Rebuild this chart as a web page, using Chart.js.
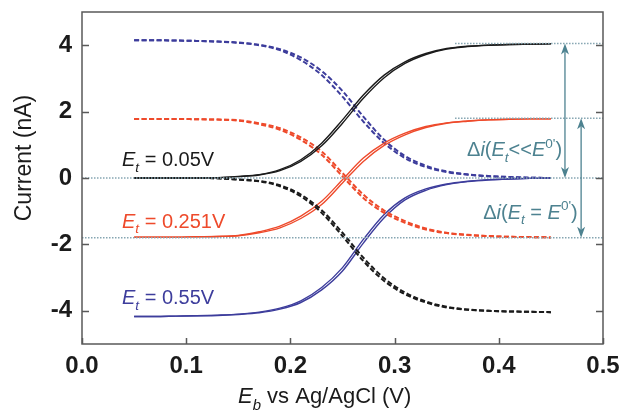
<!DOCTYPE html>
<html>
<head>
<meta charset="utf-8">
<script src="https://cdn.jsdelivr.net/npm/chart.js@4.4.1/dist/chart.umd.min.js"></script>
<style>
  html, body { margin: 0; padding: 0; background: #fff; }
  #wrap { width: 624px; height: 418px; }
</style>
</head>
<body>
<div id="wrap"><canvas id="cv" width="624" height="418"></canvas></div>
<script>
// tip-substrate potential sweep, E_b (V)
const eb = [0.05, 0.07, 0.09, 0.11, 0.13, 0.15, 0.17, 0.19, 0.21, 0.23, 0.25,
            0.27, 0.29, 0.31, 0.33, 0.35, 0.37, 0.39, 0.41, 0.43, 0.45];

// Et = 0.05 V (black)
const blackSolidA = [0, 0, 0, 0, 0.01, 0.05, 0.1, 0.25, 0.55, 1.05, 1.75, 2.5, 3.1, 3.5, 3.75, 3.9, 3.97, 4.0, 4.02, 4.03, 4.04];
const blackSolidB = [0, 0, 0, 0, 0.01, 0.04, 0.09, 0.22, 0.5, 0.97, 1.65, 2.4, 3.02, 3.45, 3.72, 3.88, 3.96, 4.0, 4.02, 4.03, 4.04];
const blackDashA  = [0, 0, 0, 0, -0.01, -0.05, -0.1, -0.25, -0.55, -1.05, -1.75, -2.5, -3.1, -3.5, -3.75, -3.9, -3.97, -4.0, -4.02, -4.03, -4.04];
const blackDashB  = [0, 0, 0, 0, -0.01, -0.04, -0.09, -0.22, -0.5, -0.97, -1.65, -2.4, -3.02, -3.45, -3.72, -3.88, -3.96, -4.0, -4.02, -4.03, -4.04];

// Et = 0.251 V (red)
const redSolidA = [-1.78, -1.78, -1.78, -1.77, -1.76, -1.73, -1.62, -1.45, -1.15, -0.7, -0.05, 0.6, 1.05, 1.35, 1.55, 1.66, 1.72, 1.75, 1.77, 1.78, 1.78];
const redSolidB = [-1.78, -1.78, -1.78, -1.77, -1.76, -1.74, -1.65, -1.5, -1.22, -0.8, -0.15, 0.5, 0.98, 1.3, 1.52, 1.65, 1.71, 1.75, 1.77, 1.78, 1.78];
const redDashA  = [1.78, 1.78, 1.78, 1.77, 1.76, 1.73, 1.62, 1.45, 1.15, 0.7, 0.05, -0.6, -1.05, -1.35, -1.55, -1.66, -1.72, -1.75, -1.77, -1.78, -1.79];
const redDashB  = [1.78, 1.78, 1.78, 1.77, 1.76, 1.74, 1.65, 1.5, 1.22, 0.8, 0.15, -0.5, -0.98, -1.3, -1.52, -1.65, -1.71, -1.75, -1.77, -1.78, -1.79];

// Et = 0.55 V (blue)
const blueSolidA = [-4.17, -4.17, -4.16, -4.15, -4.13, -4.1, -4.04, -3.92, -3.7, -3.3, -2.7, -1.85, -1.1, -0.6, -0.33, -0.18, -0.1, -0.05, -0.03, -0.01, 0];
const blueSolidB = [-4.17, -4.17, -4.16, -4.15, -4.14, -4.11, -4.06, -3.95, -3.75, -3.37, -2.8, -1.96, -1.2, -0.66, -0.37, -0.2, -0.11, -0.06, -0.03, -0.01, 0];
const blueDashA  = [4.15, 4.15, 4.14, 4.13, 4.11, 4.07, 4.0, 3.85, 3.55, 3.1, 2.45, 1.7, 1.05, 0.6, 0.33, 0.18, 0.1, 0.05, 0.03, 0.01, 0];
const blueDashB  = [4.15, 4.15, 4.14, 4.13, 4.11, 4.08, 4.01, 3.88, 3.63, 3.22, 2.62, 1.85, 1.15, 0.66, 0.37, 0.2, 0.11, 0.06, 0.03, 0.01, 0];

// dotted reference levels: [level, xStart, xEnd]
const refLevels = [[4.05, 0.358, 0.5], [1.8, 0.358, 0.5], [0, 0, 0.5], [-1.8, 0, 0.5]];
// double arrows: [x, yFrom, yTo]
const arrows = [[0.4635, 4.05, 0], [0.479, 1.8, -1.8]];

const xTicks = [0, 0.1, 0.2, 0.3, 0.4, 0.5];
const yTicks = [-4, -2, 0, 2, 4];

const BLACK = '#1b1b1b', RED = '#ee4a2b', BLUE = '#3d3d9c', TEAL = '#4d8290', DOT = '#86a6b2';
const FONT = '"Liberation Sans", Arial, sans-serif';

const pts = ys => ys.map((v, i) => ({x: eb[i], y: v}));

function curve(ys, color, dashed) {
  return {
    data: pts(ys),
    borderColor: color,
    borderWidth: dashed ? 2 : 1.4,
    borderDash: dashed ? [5, 2.5] : [],
    pointRadius: 0,
    fill: false,
    cubicInterpolationMode: 'monotone'
  };
}

const datasets = refLevels.map(r => ({
  data: [{x: r[1], y: r[0]}, {x: r[2], y: r[0]}],
  borderColor: DOT, borderWidth: 1.5, borderDash: [1.5, 1.5], pointRadius: 0, fill: false
}));
[
  [blackSolidA, BLACK, false], [blackSolidB, BLACK, false],
  [blackDashA, BLACK, true], [blackDashB, BLACK, true],
  [redSolidA, RED, false], [redSolidB, RED, false],
  [redDashA, RED, true], [redDashB, RED, true],
  [blueSolidA, BLUE, false], [blueSolidB, BLUE, false],
  [blueDashA, BLUE, true], [blueDashB, BLUE, true]
].forEach(c => datasets.push(curve(c[0], c[1], c[2])));

// rich text: parts [text, italic, shift(sub>0 / sup<0)]
function rich(ctx, parts, x, y, size, color) {
  ctx.fillStyle = color;
  ctx.textBaseline = 'alphabetic';
  ctx.textAlign = 'left';
  let cx = x;
  parts.forEach(p => {
    const small = p[2] !== 0;
    const fs = small ? size * 0.68 : size;
    ctx.font = (p[1] ? 'italic ' : '') + fs + 'px ' + FONT;
    ctx.fillText(p[0], cx, y + p[2] * size);
    cx += ctx.measureText(p[0]).width;
  });
}

const labels = [
  {parts: [['E', true, 0], ['t', true, 0.28], [' = 0.05V', false, 0]], x: 0.0384, y: 0.36, color: BLACK},
  {parts: [['E', true, 0], ['t', true, 0.28], [' = 0.251V', false, 0]], x: 0.0384, y: -1.5, color: RED},
  {parts: [['E', true, 0], ['t', true, 0.28], [' = 0.55V', false, 0]], x: 0.0384, y: -3.81, color: BLUE},
  {parts: [['\u0394', false, 0], ['i', true, 0], ['(', false, 0], ['E', true, 0], ['t', true, 0.28], ['<<', false, 0], ['E', true, 0], ['0\'', false, -0.42], [')', false, 0]], x: 0.3695, y: 0.66, color: TEAL},
  {parts: [['\u0394', false, 0], ['i', true, 0], ['(', false, 0], ['E', true, 0], ['t', true, 0.28], [' = ', false, 0], ['E', true, 0], ['0\'', false, -0.42], [')', false, 0]], x: 0.385, y: -1.23, color: TEAL}
];

const deco = {
  id: 'deco',
  afterDatasetsDraw(chart) {
    const {ctx, chartArea: a, scales: {x, y}} = chart;
    ctx.save();
    // frame + inward ticks
    ctx.strokeStyle = '#595959';
    ctx.lineWidth = 1.5;
    ctx.strokeRect(a.left, a.top, a.right - a.left, a.bottom - a.top);
    ctx.beginPath();
    xTicks.forEach(v => {
      const px = Math.round(x.getPixelForValue(v)) + 0.5;
      ctx.moveTo(px, a.bottom); ctx.lineTo(px, a.bottom - 6);
    });
    yTicks.forEach(v => {
      const py = Math.round(y.getPixelForValue(v)) + 0.5;
      ctx.moveTo(a.left, py); ctx.lineTo(a.left + 7, py);
      ctx.moveTo(a.right, py); ctx.lineTo(a.right - 7, py);
    });
    ctx.stroke();

    // double-headed arrows
    ctx.strokeStyle = TEAL;
    ctx.fillStyle = TEAL;
    ctx.lineWidth = 1.3;
    arrows.forEach(ar => {
      const px = x.getPixelForValue(ar[0]);
      const y1 = y.getPixelForValue(ar[1]), y2 = y.getPixelForValue(ar[2]);
      ctx.beginPath();
      ctx.moveTo(px, y1 + 8); ctx.lineTo(px, y2 - 8);
      ctx.stroke();
      [[y1, 1], [y2, -1]].forEach(h => {
        ctx.beginPath();
        ctx.moveTo(px, h[0]);
        ctx.lineTo(px - 4, h[0] + 11 * h[1]);
        ctx.lineTo(px, h[0] + 8 * h[1]);
        ctx.lineTo(px + 4, h[0] + 11 * h[1]);
        ctx.closePath();
        ctx.fill();
      });
    });

    labels.forEach(l => rich(ctx, l.parts, x.getPixelForValue(l.x), y.getPixelForValue(l.y), 20, l.color));

    // axis titles
    rich(ctx, [['E', true, 0], ['b', true, 0.3], [' vs Ag/AgCl (V)', false, 0]], 238, 403, 22, '#1b1b1b');
    ctx.translate(31, 158);
    ctx.rotate(-Math.PI / 2);
    ctx.font = '23px ' + FONT;
    ctx.textAlign = 'center';
    ctx.fillStyle = '#1b1b1b';
    ctx.fillText('Current (nA)', 0, 0);
    ctx.restore();
  }
};

new Chart(document.getElementById('cv').getContext('2d'), {
  type: 'line',
  data: {datasets: datasets},
  options: {
    responsive: false,
    animation: false,
    layout: {padding: {top: 12, right: 21, left: 0, bottom: 0}},
    plugins: {legend: {display: false}, tooltip: {enabled: false}},
    scales: {
      x: {
        type: 'linear', min: 0, max: 0.5,
        afterBuildTicks: s => { s.ticks = xTicks.map(v => ({value: v})); },
        afterFit: s => { s.height = 74; s.paddingLeft = 0; s.paddingRight = 0; },
        grid: {display: false},
        border: {display: false},
        ticks: {
          padding: 0, color: '#1b1b1b', maxRotation: 0,
          font: {family: FONT, size: 24, weight: 'bold'},
          callback: v => v.toFixed(1)
        }
      },
      y: {
        type: 'linear', min: -5, max: 5,
        afterBuildTicks: s => { s.ticks = yTicks.map(v => ({value: v})); },
        afterFit: s => { s.width = 82; s.paddingTop = 0; s.paddingBottom = 0; },
        grid: {display: false},
        border: {display: false},
        ticks: {
          padding: 2, color: '#1b1b1b',
          font: {family: FONT, size: 24, weight: 'bold'}
        }
      }
    }
  },
  plugins: [deco]
});
</script>
</body>
</html>
